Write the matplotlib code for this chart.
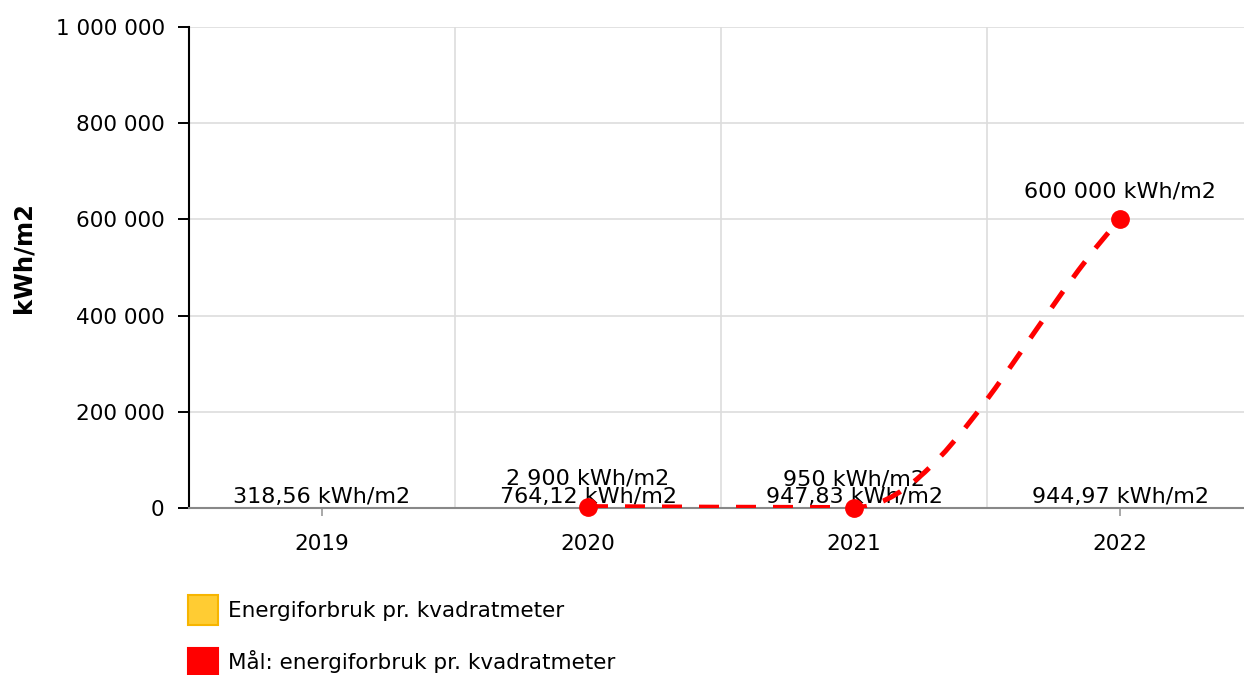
import numpy as np
import matplotlib
matplotlib.use("Agg")
import matplotlib.pyplot as plt
from matplotlib.path import Path
from matplotlib.patches import PathPatch, Patch
from matplotlib.ticker import FuncFormatter, FixedLocator

# chart data
years = ["2019", "2020", "2021", "2022"]
usage = [318.56, 764.12, 947.83, 944.97]
target = [None, 2900, 950, 600000]

yTicks = [0, 200000, 400000, 600000, 800000, 1000000]
unit = "kWh/m2"
barName = "Energiforbruk pr. kvadratmeter"
lineName = "Mål: energiforbruk pr. kvadratmeter"

barColor = "#FFCC33"
barEdge = "#F7B500"
lineColor = "#FF0000"
gridColor = "#DDDDDD"

tickSize = 15.5
labelSize = 16


def spaced(v):
    return f"{v:,.0f}".replace(",", " ")


def monotonePath(xs, ys):
    """ Monotone cubic curve through the points (same idea as chart.js 'monotone') """
    xs = np.asarray(xs, dtype=float)
    ys = np.asarray(ys, dtype=float)
    deltas = np.diff(ys) / np.diff(xs)
    m = np.zeros(len(xs))
    m[0] = deltas[0]
    m[-1] = deltas[-1]
    for i in range(1, len(xs) - 1):
        if deltas[i - 1] * deltas[i] <= 0:
            m[i] = 0
        else:
            m[i] = (deltas[i - 1] + deltas[i]) / 2
    for i in range(len(deltas)):
        if deltas[i] == 0:
            m[i] = m[i + 1] = 0
            continue
        a = m[i] / deltas[i]
        b = m[i + 1] / deltas[i]
        s = a * a + b * b
        if s > 9:
            t = 3 / np.sqrt(s)
            m[i] = t * a * deltas[i]
            m[i + 1] = t * b * deltas[i]
    verts = [(xs[0], ys[0])]
    codes = [Path.MOVETO]
    for i in range(len(xs) - 1):
        dx = (xs[i + 1] - xs[i]) / 3
        verts += [(xs[i] + dx, ys[i] + dx * m[i]),
                  (xs[i + 1] - dx, ys[i + 1] - dx * m[i + 1]),
                  (xs[i + 1], ys[i + 1])]
        codes += [Path.CURVE4] * 3
    return Path(verts, codes)


fig = plt.figure(figsize=(12.44, 6.75), dpi=100)
ax = fig.add_axes([189 / 1244, 1 - 508 / 675, 1064 / 1244, 481 / 675])

x = np.arange(len(years))
ax.bar(x, usage, width=0.6, color=barColor, edgecolor=barEdge, zorder=2)

for i, v in enumerate(usage):
    ax.annotate(f"{v:.2f}".replace(".", ",") + " " + unit, (x[i], v),
                xytext=(0, 3.4), textcoords="offset points",
                ha="center", va="baseline", fontsize=labelSize, zorder=3)

# target line (smooth dashed curve + markers)
tx = [x[i] for i, v in enumerate(target) if v is not None]
ty = [v for v in target if v is not None]
curve = PathPatch(monotonePath(tx, ty), fill=False, edgecolor=lineColor,
                  linewidth=3.6, linestyle=(0, (4, 3.4)), capstyle="butt", zorder=4)
ax.add_patch(curve)
ax.plot(tx, ty, linestyle="none", marker="o", markersize=12.5,
        color=lineColor, zorder=5, clip_on=False)
for xi, yi in zip(tx, ty):
    ax.annotate(spaced(yi) + " " + unit, (xi, yi), xytext=(0, 16),
                textcoords="offset points", ha="center", va="baseline",
                fontsize=labelSize, zorder=3)

ax.set_xlim(-0.5, len(years) - 0.5)
ax.set_ylim(0, 1000000)
ax.set_xticks(x)
ax.set_xticklabels(years)
ax.xaxis.set_minor_locator(FixedLocator(x[:-1] + 0.5))
ax.set_yticks(yTicks)
ax.yaxis.set_major_formatter(FuncFormatter(lambda v, p: spaced(v)))

ax.grid(axis="y", which="major", color=gridColor, linewidth=1.2, zorder=0)
ax.grid(axis="x", which="minor", color=gridColor, linewidth=1.2, zorder=0)
ax.set_axisbelow(True)

ax.tick_params(axis="y", length=8, width=1.4, color="black", pad=9.5, labelsize=tickSize)
ax.tick_params(axis="x", which="major", length=6, width=1.2, color="#999999",
               pad=13, labelsize=tickSize)
ax.tick_params(axis="x", which="minor", length=0)

for side in ["top", "right"]:
    ax.spines[side].set_visible(False)
ax.spines["left"].set_color("black")
ax.spines["left"].set_linewidth(1.5)
ax.spines["bottom"].set_color("#888888")
ax.spines["bottom"].set_linewidth(1.5)

ax.set_ylabel(unit, fontsize=17.5, fontweight="bold")
ax.yaxis.set_label_coords(-0.1447, 0.52)

handles = [Patch(facecolor=barColor, edgecolor=barEdge, linewidth=1.5, label=barName),
           Patch(facecolor=lineColor, edgecolor=lineColor, linewidth=1.5, label=lineName)]
fig.legend(handles=handles, loc="upper left", bbox_to_anchor=(188 / 1244, 1 - 595 / 675),
           frameon=False, borderpad=0, borderaxespad=0, fontsize=tickSize,
           handlelength=1.39, handleheight=1.75, handletextpad=0.45, labelspacing=1.06)

fig.savefig("out.png", dpi=100)
